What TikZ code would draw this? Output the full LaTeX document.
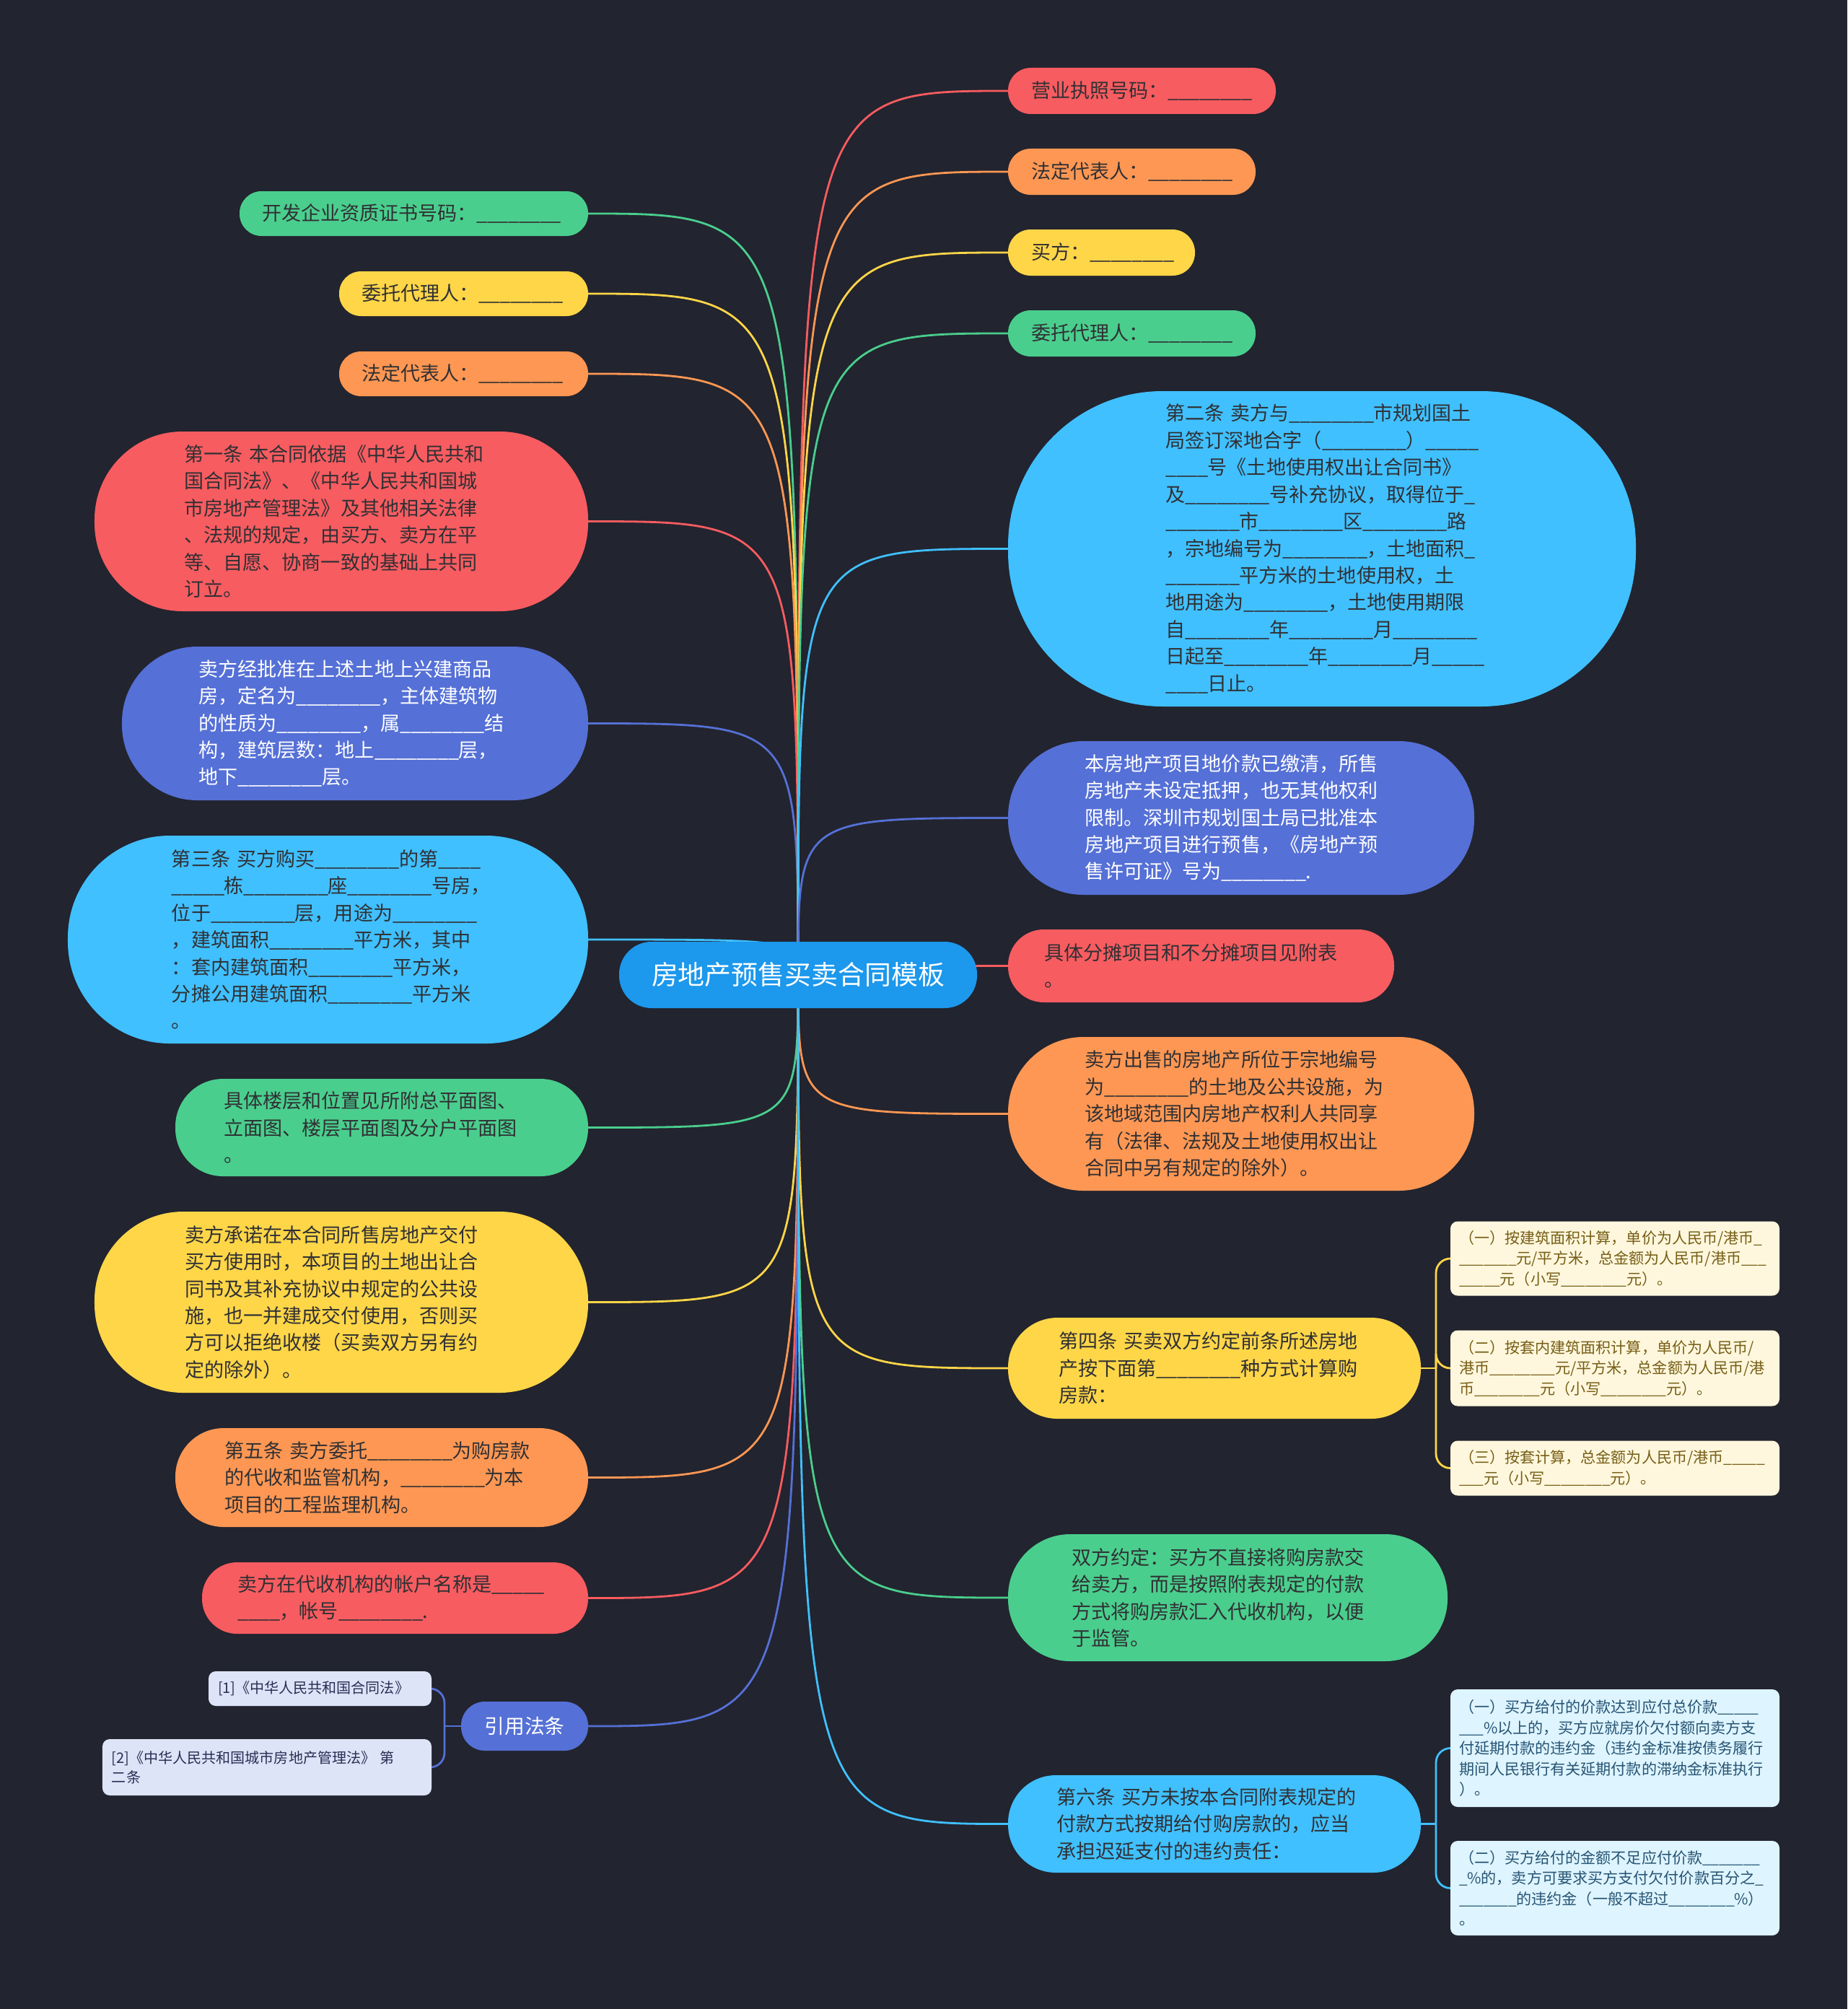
\documentclass[tikz,border=0pt]{standalone}
\usepackage{fontspec}
\setmainfont{Noto Sans CJK SC}
\usetikzlibrary{positioning,calc}

\definecolor{bgdark}{RGB}{34,36,47}
\definecolor{cred}{RGB}{247,92,96}
\definecolor{corange}{RGB}{254,151,83}
\definecolor{cyellow}{RGB}{254,214,72}
\definecolor{cgreen}{RGB}{74,206,141}
\definecolor{cpurple}{RGB}{85,112,214}
\definecolor{csky}{RGB}{64,192,255}
\definecolor{croot}{RGB}{28,152,236}
\definecolor{txtdark}{RGB}{48,48,52}
\definecolor{leafyel}{RGB}{255,247,221}
\definecolor{leafyeltx}{RGB}{118,94,22}
\definecolor{leafsky}{RGB}{222,244,255}
\definecolor{leafskytx}{RGB}{38,84,115}
\definecolor{leafpur}{RGB}{222,228,248}
\definecolor{leafpurtx}{RGB}{40,46,82}

% blanks of the contract form
\ExplSyntaxOn
\NewDocumentCommand\us{m}{\prg_replicate:nn{#1}{\textunderscore\kern-0.02em}}
\ExplSyntaxOff

\pgfdeclarelayer{backdrop}
\pgfdeclarelayer{links}
\pgfsetlayers{backdrop,links,main}

\tikzset{
  root/.style={rectangle, rounded corners=4.5mm, fill=croot, text=white, inner sep=0pt, outer sep=0pt,
               minimum width=49.6mm, minimum height=9.2mm, align=center,
               font=\fontsize{10.5pt}{12pt}\selectfont},
  pill/.style n args={3}{rectangle, inner sep=0pt, outer sep=0pt, minimum width=#1mm, minimum height=#2mm,
               text width=#3mm, rounded corners=0.49*#2mm, align=left, text=txtdark,
               font=\fontsize{7.7pt}{10.65pt}\selectfont},
  leaf/.style={rectangle, rounded corners=1mm, inner xsep=1.2mm, inner ysep=0pt, outer sep=0pt,
               text width=43.2mm, align=left, font=\fontsize{6pt}{8.1pt}\selectfont},
  cite/.style={rectangle, rounded corners=1mm, inner xsep=1.3mm, inner ysep=0pt, outer sep=0pt,
               fill=leafpur, text=leafpurtx, align=left, font=\fontsize{5.7pt}{7.7pt}\selectfont},
  link/.style={line width=0.28mm},
}

\begin{document}
\begin{tikzpicture}[x=1mm,y=-1mm]

% ================= backdrop =================
\begin{pgfonlayer}{backdrop}
  \fill[bgdark] (0,0) rectangle (256,278.4);
\end{pgfonlayer}

% ================= root =================
\node[root] (root) at (110.6,135.1) {房地产预售买卖合同模板};

% ================= left column =================
\node[pill={48.3}{6.2}{42.1}, fill=cgreen, anchor=north east] (L1) at (81.5,26.5)
  {开发企业资质证书号码：\us{8}};
\node[pill={34.5}{6.2}{28.3}, fill=cyellow, below left=4.9mm and 0mm of L1.south east] (L2)
  {委托代理人：\us{8}};
\node[pill={34.5}{6.2}{28.3}, fill=corange, below left=4.9mm and 0mm of L2.south east] (L3)
  {法定代表人：\us{8}};
\node[pill={68.4}{24.9}{43.5}, fill=cred, below left=4.9mm and 0mm of L3.south east] (L4)
  {第一条~本合同依据《中华人民共和\\
   国合同法》、《中华人民共和国城\\
   市房地产管理法》及其他相关法律\\
   、法规的规定，由买方、卖方在平\\
   等、自愿、协商一致的基础上共同\\
   订立。};
\node[pill={64.6}{21.3}{43.3}, fill=cpurple, text=white, below left=4.9mm and 0mm of L4.south east] (L5)
  {卖方经批准在上述土地上兴建商品\\
   房，定名为\us{8}，主体建筑物\\
   的性质为\us{8}，属\us{8}结\\
   构，建筑层数：地上\us{8}层，\\
   地下\us{8}层。};
\node[pill={72.1}{28.8}{43.3}, fill=csky, below left=4.9mm and 0mm of L5.south east] (L6)
  {第三条~买方购买\us{8}的第\us{4}\\
   \us{5}栋\us{8}座\us{8}号房，\\
   位于\us{8}层，用途为\us{8}\\
   ，建筑面积\us{8}平方米，其中\\
   ：套内建筑面积\us{8}平方米，\\
   分摊公用建筑面积\us{8}平方米\\
   。};
\node[pill={57.2}{13.5}{43.7}, fill=cgreen, below left=4.9mm and 0mm of L6.south east] (L7)
  {具体楼层和位置见所附总平面图、\\
   立面图、楼层平面图及分户平面图\\
   。};
\node[pill={68.4}{25.1}{43.3}, fill=cyellow, below left=4.9mm and 0mm of L7.south east] (L8)
  {卖方承诺在本合同所售房地产交付\\
   买方使用时，本项目的土地出让合\\
   同书及其补充协议中规定的公共设\\
   施，也一并建成交付使用，否则买\\
   方可以拒绝收楼（买卖双方另有约\\
   定的除外）。};
\node[pill={57.2}{13.7}{43.5}, fill=corange, below left=4.9mm and 0mm of L8.south east] (L9)
  {第五条~卖方委托\us{8}为购房款\\
   的代收和监管机构，\us{8}为本\\
   项目的工程监理机构。};
\node[pill={53.5}{9.9}{43.6}, fill=cred, below left=4.9mm and 0mm of L9.south east] (L10)
  {卖方在代收机构的帐户名称是\us{5}\\
   \us{4}，帐号\us{8}.};
\node[root, fill=cpurple, minimum width=17.6mm, minimum height=6.8mm, rounded corners=3.3mm,
      font=\fontsize{7.9pt}{9pt}\selectfont, below left=9.4mm and 0mm of L10.south east] (L11)
  {引用法条};

% references under L11
\node[cite, text width=28.3mm, minimum height=4.8mm, above left=2.8mm and 4.1mm of L11.west] (L11a)
  {[1]《中华人民共和国合同法》};
\node[cite, text width=43.0mm, minimum height=7.8mm, below left=4.6mm and 0mm of L11a.south east] (L11b)
  {[2]《中华人民共和国城市房地产管理法》 第\\二条};

% ================= right column =================
\node[pill={37.1}{6.4}{30.7}, fill=cred, anchor=north west] (R1) at (139.7,9.4)
  {营业执照号码：\us{8}};
\node[pill={34.3}{6.4}{27.9}, fill=corange, below right=4.8mm and 0mm of R1.south west] (R2)
  {法定代表人：\us{8}};
\node[pill={25.9}{6.4}{19.5}, fill=cyellow, below right=4.8mm and 0mm of R2.south west] (R3)
  {买方：\us{8}};
\node[pill={34.3}{6.4}{27.9}, fill=cgreen, below right=4.8mm and 0mm of R3.south west] (R4)
  {委托代理人：\us{8}};
\node[pill={87.0}{43.7}{43.3}, fill=csky, below right=4.8mm and 0mm of R4.south west] (R5)
  {第二条~卖方与\us{8}市规划国土\\
   局签订深地合字（\us{8}）\us{5}\\
   \us{4}号《土地使用权出让合同书》\\
   及\us{8}号补充协议，取得位于\us{1}\\
   \us{7}市\us{8}区\us{8}路\\
   ，宗地编号为\us{8}，土地面积\us{1}\\
   \us{7}平方米的土地使用权，土\\
   地用途为\us{8}，土地使用期限\\
   自\us{8}年\us{8}月\us{8}\\
   日起至\us{8}年\us{8}月\us{5}\\
   \us{4}日止。};
\node[pill={64.6}{21.3}{43.3}, fill=cpurple, text=white, below right=4.8mm and 0mm of R5.south west] (R6)
  {本房地产项目地价款已缴清，所售\\
   房地产未设定抵押，也无其他权利\\
   限制。深圳市规划国土局已批准本\\
   房地产项目进行预售，《房地产预\\
   售许可证》号为\us{8}.};
\node[pill={53.5}{10.1}{43.4}, fill=cred, below right=4.8mm and 0mm of R6.south west] (R7)
  {具体分摊项目和不分摊项目见附表\\
   。};
\node[pill={64.6}{21.3}{43.3}, fill=corange, below right=4.8mm and 0mm of R7.south west] (R8)
  {卖方出售的房地产所位于宗地编号\\
   为\us{8}的土地及公共设施，为\\
   该地域范围内房地产权利人共同享\\
   有（法律、法规及土地使用权出让\\
   合同中另有规定的除外）。};
\node[pill={57.2}{14.0}{43.2}, fill=cyellow, below right=17.6mm and 0mm of R8.south west] (R9)
  {第四条~买卖双方约定前条所述房地\\
   产按下面第\us{8}种方式计算购\\
   房款：};
\node[pill={60.9}{17.6}{43.3}, fill=cgreen, below right=16.0mm and 0mm of R9.south west] (R10)
  {双方约定：买方不直接将购房款交\\
   给卖方，而是按照附表规定的付款\\
   方式将购房款汇入代收机构，以便\\
   于监管。};
\node[pill={57.2}{13.5}{43.7}, fill=csky, below right=15.8mm and 0mm of R10.south west] (R11)
  {第六条~买方未按本合同附表规定的\\
   付款方式按期给付购房款的，应当\\
   承担迟延支付的违约责任：};

% ways of pricing under R9
\node[leaf, fill=leafyel, text=leafyeltx, minimum height=10.5mm, right=4.1mm of R9] (R9b)
  {（二）按套内建筑面积计算，单价为人民币/\\
   港币\us{8}元/平方米，总金额为人民币/港\\
   币\us{8}元（小写\us{8}元）。};
\node[leaf, fill=leafyel, text=leafyeltx, minimum height=10.3mm, above=4.8mm of R9b] (R9a)
  {（一）按建筑面积计算，单价为人民币/港币\us{1}\\
   \us{7}元/平方米，总金额为人民币/港币\us{3}\\
   \us{5}元（小写\us{8}元）。};
\node[leaf, fill=leafyel, text=leafyeltx, minimum height=7.6mm, below=4.8mm of R9b] (R9c)
  {（三）按套计算，总金额为人民币/港币\us{5}\\
   \us{3}元（小写\us{8}元）。};

% penalties under R11
\node[leaf, fill=leafsky, text=leafskytx, minimum height=16.3mm, above right=2.35mm and 4.1mm of R11.east] (R11a)
  {（一）买方给付的价款达到应付总价款\us{5}\\
   \us{3}\%以上的，买方应就房价欠付额向卖方支\\
   付延期付款的违约金（违约金标准按债务履行\\
   期间人民银行有关延期付款的滞纳金标准执行\\
   ）。};
\node[leaf, fill=leafsky, text=leafskytx, minimum height=13.1mm, below right=4.7mm and 0mm of R11a.south west] (R11b)
  {（二）买方给付的金额不足应付价款\us{7}\\
   \us{1}\%的，卖方可要求买方支付欠付价款百分之\us{1}\\
   \us{7}的违约金（一般不超过\us{8}\%）\\
   。};

% ================= connectors =================
\begin{pgfonlayer}{links}
\foreach \n/\c in {L1/cgreen, L2/cyellow, L3/corange, L4/cred, L5/cpurple, L6/csky,
                   L7/cgreen, L8/cyellow, L9/corange, L10/cred, L11/cpurple}
  {\draw[link, draw=\c] (root.center) .. controls (root.center |- \n.east) .. (\n.east);}
\foreach \n/\c in {R1/cred, R2/corange, R3/cyellow, R4/cgreen, R5/csky, R6/cpurple,
                   R7/cred, R8/corange, R9/cyellow, R10/cgreen, R11/csky}
  {\draw[link, draw=\c] (root.center) .. controls (root.center |- \n.west) .. (\n.west);}

% brackets to the second level
\coordinate (k9) at ($(R9.east)+(2.1,0)$);
\coordinate (k11) at ($(R11.east)+(2.1,0)$);
\coordinate (kc) at ($(L11.west)+(-2.3,0)$);
\draw[link, draw=cyellow] (R9.east) -- (k9);
\foreach \s in {R9a,R9b,R9c} {\draw[link, draw=cyellow, rounded corners=2mm] (k9) |- (\s.west);}
\draw[link, draw=csky] (R11.east) -- (k11);
\foreach \s in {R11a,R11b} {\draw[link, draw=csky, rounded corners=2mm] (k11) |- (\s.west);}
\draw[link, draw=cpurple] (L11.west) -- (kc);
\foreach \s in {L11a,L11b} {\draw[link, draw=cpurple, rounded corners=2mm] (kc) |- (\s.east);}
\end{pgfonlayer}

\end{tikzpicture}
\end{document}
